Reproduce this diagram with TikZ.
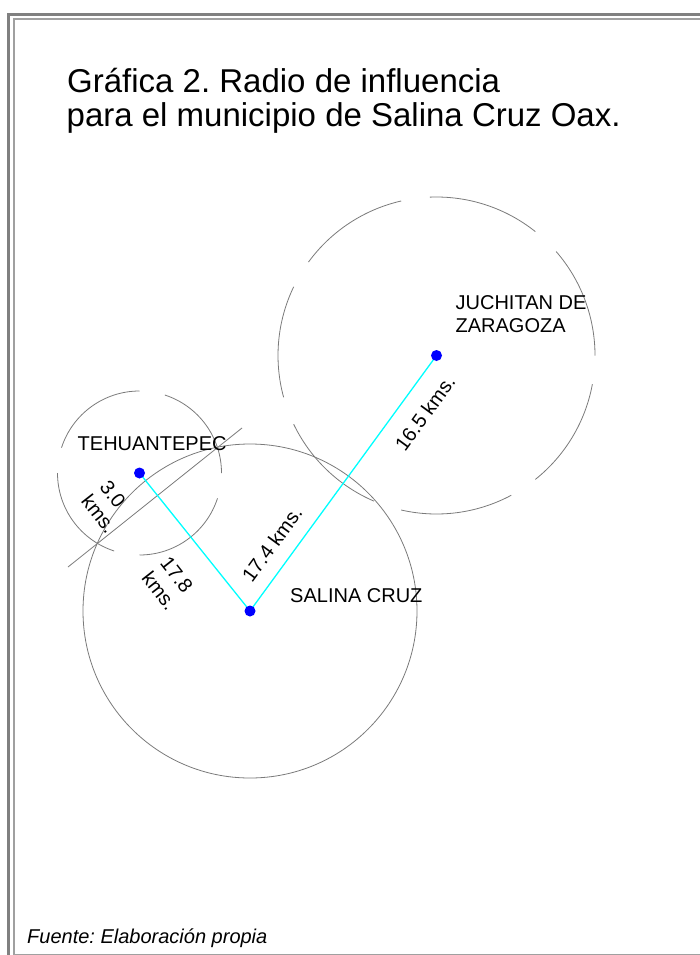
\documentclass[tikz,border=0pt]{standalone}
\usepackage{fontspec}
\setmainfont{Liberation Sans}
\frenchspacing
\definecolor{ringgray}{HTML}{7A7A7A}
\definecolor{framegray}{HTML}{808080}
\definecolor{framelight}{HTML}{A0A0A0}
\definecolor{linkcyan}{RGB}{0,255,255}
\definecolor{dotblue}{RGB}{0,0,255}
\tikzset{
  ring/.style={draw=ringgray,line width=0.8pt},
  link/.style={draw=linkcyan,line width=1.3pt},
  title/.style={font=\fontsize{33}{34}\selectfont,inner sep=0pt,anchor=base west},
  town/.style={font=\fontsize{20}{23.4}\selectfont,inner sep=0pt},
  dist/.style={town,align=left},
}
\begin{document}
\begin{tikzpicture}[x=1pt,y=-1pt]
\useasboundingbox (0,0) rectangle (700,955);
\clip (0,0) rectangle (700,955);
\draw[framegray,line width=3pt] (8.5,14.5) rectangle (720,990);
\draw[framelight,line width=2pt] (14,19.5) rectangle (720,954.5);
\node[title] (tit1) at (67,93) {Gráfica 2. Radio de influencia};
\node[title] (tit2) at (66.5,127) {para el municipio de Salina Cruz Oax.};
\coordinate (T) at (139.5,473);
\coordinate (S) at (250,611);
\coordinate (J) at (436.5,355.5);
\coordinate (r1) at (68,567);
\coordinate (r2) at (242,428);
\draw[ring] (S) circle (167);
\foreach \k in {0,...,3}
  \draw[ring] (T) ++(-90*\k:82) arc[start angle=-90*\k,delta angle=-72,radius=82];
\foreach \k in {0,...,6}
  \draw[ring] (J) ++(-360*\k/7:158.5) arc[start angle=-360*\k/7,delta angle=-41,radius=158.5];
\draw[ring] (r1) -- (r2);
\draw[link] (T) -- (S) -- (J);
\foreach \p in {T,S,J}
  \fill[dotblue] (\p) circle (5.5);
\node[town,anchor=base west] (teh) at (77.5,450) {TEHUANTEPEC};
\node[town,anchor=base west] (sal) at (290,602.7) {SALINA CRUZ};
\node[dist] (juc) at (521,314) {JUCHITAN DE\\ZARAGOZA};
\node[town,rotate=53.8] (d1) at (425,413) {16.5 kms.};
\node[town,rotate=53.8] (d2) at (272,544) {17.4 kms.};
\node[dist,rotate=-52] (d3) at (168.5,583.5) {17.8\\kms.};
\node[dist,rotate=-52] (d4) at (108,507) {3.0\\kms.};
\node[town,font=\fontsize{20}{23}\selectfont\itshape,anchor=base west] (fte) at (27,943.3) {Fuente: Elaboración propia};
\end{tikzpicture}
\end{document}
